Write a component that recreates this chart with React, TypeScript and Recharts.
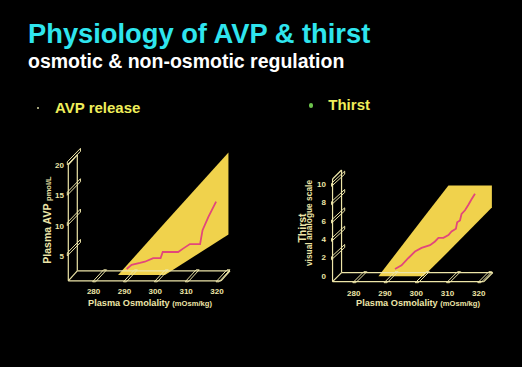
import React from "react";
import { ComposedChart, Area, Line, XAxis, YAxis, ReferenceLine } from "recharts";

// shared x ticks (plasma osmolality, mOsm/kg)
const osmTicks = [280, 290, 300, 310, 320];

// AVP release panel
const avpTicks = [5, 10, 15, 20];
const avpOsm = [287.8, 289.4, 292.1, 293.7, 296.4, 298.8, 299.5, 304.5, 306.2, 308.3, 311.6, 312.4, 314.3, 316.8];
const avpLevel = [1.2, 1.9, 2.2, 2.4, 3.0, 3.0, 4.0, 4.0, 4.6, 5.3, 5.3, 7.6, 9.8, 12.3];
const avpBandOsm = [285.0, 300.2, 320.8];
const avpBandLow = [0.2, 0.2, 6.9];
const avpBandHigh = [0.2, 8.8, 20.4];

// Thirst panel
const thirstTicks = [0, 2, 4, 6, 8, 10];
const thirstOsm = [290.3, 292.4, 294.6, 296.7, 298.8, 301.5, 303.1, 304.2, 305.8, 307.4, 308.4, 309.8, 310.2, 311.1, 311.6, 312.7, 313.8, 314.8, 315.9];
const thirstScore = [0, 0.4, 1.2, 1.9, 2.3, 2.6, 3.0, 3.4, 3.4, 3.7, 4.1, 4.4, 5.1, 5.3, 6.0, 6.4, 7.0, 7.6, 8.2];
const thirstBandOsm = [285.0, 299.4, 307.4, 321.3];
const thirstBandLow = [-0.8, -0.8, 1.9, 6.7];
const thirstBandHigh = [-0.8, 5.6, 9.1, 9.1];

const FONT = '"Liberation Sans", Arial, Helvetica, sans-serif';
const FRAME = "#EDE5A8";
const BAND = "#F0D24C";
const PINK = "#E2477B";

type Frame = { x0: number; x1: number; floor: number; top: number; dx: number; dy: number };

// the pseudo-3d box: wall + floor, in data units
function frameSegments(f: Frame) {
  const { x0, x1, floor, top, dx, dy } = f;
  return [
    [[x0, floor], [x0, top]],
    [[x0 + dx, floor + dy], [x0 + dx, top + dy]],
    [[x0, top], [x0 + dx, top + dy]],
    [[x0, floor], [x1, floor]],
    [[x0 + dx, floor + dy], [x1 + dx, floor + dy]],
    [[x1, floor], [x1 + dx, floor + dy]],
    [[x0, floor], [x0 + dx, floor + dy]],
  ];
}

type PanelProps = {
  plot: { top: number; right: number; bottom: number; left: number };
  xDomain: [number, number];
  yDomain: [number, number];
  yTicks: number[];
  osm: number[];
  value: number[];
  bandOsm: number[];
  bandLow: number[];
  bandHigh: number[];
  frame: Frame;
  ox: number;
  oy: number;
  floorBack: number;
  floorFront: number;
  yLabelX: number;
  yLabelDy: number;
  xLabelY: number;
  xTitleX: number;
  xTitleY: number;
  yTitle: React.ReactNode;
};

function Panel(p: PanelProps) {
  const line = p.osm.map((x, i) => ({ x, y: p.value[i] }));
  const band = p.bandOsm.map((x, i) => ({ x, band: [p.bandLow[i], p.bandHigh[i]] }));
  const wallFront = p.plot.left - p.ox;

  const yTick = (props: any) => {
    const fy = props.y + p.oy;
    const v = props.payload.value;
    const ex = wallFront + 1.35 * p.ox;
    const ey = fy - 1.35 * p.oy;
    return (
      <g>
        {v !== 0 && (
          <polygon
            points={`${wallFront - 1},${fy} ${ex},${ey} ${ex},${ey - 3} ${wallFront - 1},${fy - 3}`}
            fill="none"
            stroke={FRAME}
            strokeWidth={1}
          />
        )}
        <text x={p.yLabelX} y={fy + p.yLabelDy} textAnchor="end" fill={FRAME} fontSize={8} fontWeight="bold" fontFamily={FONT}>
          {v}
        </text>
      </g>
    );
  };

  const xTick = (props: any) => {
    const x = props.x;
    const fx = x - p.ox;
    return (
      <g>
        <polygon
          points={`${fx - 1},${p.floorFront + 1} ${x + 1},${p.floorBack - 1} ${x + 4},${p.floorBack - 1} ${fx + 2},${p.floorFront + 1}`}
          fill="none"
          stroke={FRAME}
          strokeWidth={1}
        />
        <text x={fx} y={p.xLabelY} textAnchor="middle" fill={FRAME} fontSize={8} fontWeight="bold" fontFamily={FONT}>
          {props.payload.value}
        </text>
      </g>
    );
  };

  return (
    <ComposedChart width={261} height={180} margin={{ top: p.plot.top, right: p.plot.right, bottom: 0, left: 0 }}>
      <XAxis
        type="number"
        dataKey="x"
        domain={p.xDomain}
        ticks={osmTicks}
        interval={0}
        allowDataOverflow
        height={p.plot.bottom}
        axisLine={false}
        tickLine={false}
        tick={xTick}
        label={{
          content: () => (
            <text x={p.xTitleX} y={p.xTitleY} fill={FRAME} fontFamily={FONT}>
              <tspan fontSize={9.2} fontWeight="bold">Plasma Osmolality </tspan>
              <tspan fontSize={7.6}>(mOsm/kg)</tspan>
            </text>
          ),
        }}
      />
      <YAxis
        type="number"
        domain={p.yDomain}
        ticks={p.yTicks}
        interval={0}
        allowDataOverflow
        width={p.plot.left}
        axisLine={false}
        tickLine={false}
        tick={yTick}
        label={{ content: () => p.yTitle }}
      />
      {frameSegments(p.frame).map((s, i) => (
        <ReferenceLine
          key={i}
          segment={[
            { x: s[0][0], y: s[0][1] },
            { x: s[1][0], y: s[1][1] },
          ]}
          stroke={FRAME}
          strokeWidth={1.2}
          ifOverflow="visible"
        />
      ))}
      <Area data={band} dataKey="band" type="linear" stroke="none" fill={BAND} fillOpacity={1} isAnimationActive={false} />
      <Line data={line} dataKey="y" type="linear" stroke={PINK} strokeWidth={1.8} dot={false} isAnimationActive={false} />
    </ComposedChart>
  );
}

export default function App() {
  return (
    <div
      style={{
        position: "absolute",
        left: 0,
        top: 0,
        width: 522,
        height: 367,
        background: "#000",
        overflow: "hidden",
        fontFamily: FONT,
        fontWeight: "bold",
      }}
    >
      <div style={{ position: "absolute", left: 28, top: 20.2, fontSize: 27.3, lineHeight: "27.3px", color: "#2FE5EE", whiteSpace: "nowrap" }}>
        Physiology of AVP &amp; thirst
      </div>
      <div style={{ position: "absolute", left: 28, top: 51.8, fontSize: 19.5, lineHeight: "19.5px", color: "#FFFFFF", whiteSpace: "nowrap" }}>
        osmotic &amp; non-osmotic regulation
      </div>
      <div style={{ position: "absolute", left: 37, top: 107, width: 2, height: 2, borderRadius: 1, background: "#D8D8A0" }} />
      <div style={{ position: "absolute", left: 55, top: 99.6, fontSize: 15, lineHeight: "15px", color: "#EFEE5A", whiteSpace: "nowrap" }}>
        AVP release
      </div>
      <div style={{ position: "absolute", left: 308.5, top: 103, width: 4.5, height: 4.5, borderRadius: 3, background: "#6CC24C" }} />
      <div style={{ position: "absolute", left: 328.3, top: 97.3, fontSize: 15, lineHeight: "15px", color: "#EFEE5A", whiteSpace: "nowrap" }}>
        Thirst
      </div>

      <div style={{ position: "absolute", left: 0, top: 140 }}>
        <Panel
          plot={{ top: 8.8, right: 31, bottom: 43.7, left: 77.3 }}
          xDomain={[271.8, 321.3]}
          yDomain={[0, 21]}
          yTicks={avpTicks}
          osm={avpOsm}
          value={avpLevel}
          bandOsm={avpBandOsm}
          bandLow={avpBandLow}
          bandHigh={avpBandHigh}
          frame={{ x0: 271.8, x1: 321.3, floor: 0.9, top: 20, dx: -2.917, dy: -1.647 }}
          ox={9}
          oy={10}
          floorBack={130.8}
          floorFront={140.8}
          yLabelX={64}
          yLabelDy={3}
          xLabelY={153.7}
          xTitleX={88}
          xTitleY={165.5}
          yTitle={
            <text transform="translate(51,80) rotate(-90)" textAnchor="middle" fill={FRAME} fontFamily={FONT}>
              <tspan fontSize={10.5} fontWeight="bold">Plasma AVP </tspan>
              <tspan fontSize={7.5}>pmol/L</tspan>
            </text>
          }
        />
      </div>

      <div style={{ position: "absolute", left: 261, top: 140 }}>
        <Panel
          plot={{ top: 28.13, right: 29.2, bottom: 41.83, left: 80.55 }}
          xDomain={[273.2, 321.6]}
          yDomain={[-1, 11]}
          yTicks={thirstTicks}
          osm={thirstOsm}
          value={thirstScore}
          bandOsm={thirstBandOsm}
          bandLow={thirstBandLow}
          bandHigh={thirstBandHigh}
          frame={{ x0: 273.2, x1: 321.6, floor: -0.4, top: 10.8, dx: -2.88, dy: -0.98 }}
          ox={9}
          oy={9}
          floorBack={132.7}
          floorFront={141.7}
          yLabelX={65}
          yLabelDy={0.7}
          xLabelY={155.5}
          xTitleX={95}
          xTitleY={166}
          yTitle={
            <g fill={FRAME} fontFamily={FONT}>
              <text transform="translate(44.5,88) rotate(-90)" textAnchor="middle" fontSize={10.5} fontWeight="bold">
                Thirst
              </text>
              <text transform="translate(51,83) rotate(-90)" textAnchor="middle" fontSize={8.4}>
                visual analogue scale
              </text>
            </g>
          }
        />
      </div>
    </div>
  );
}
